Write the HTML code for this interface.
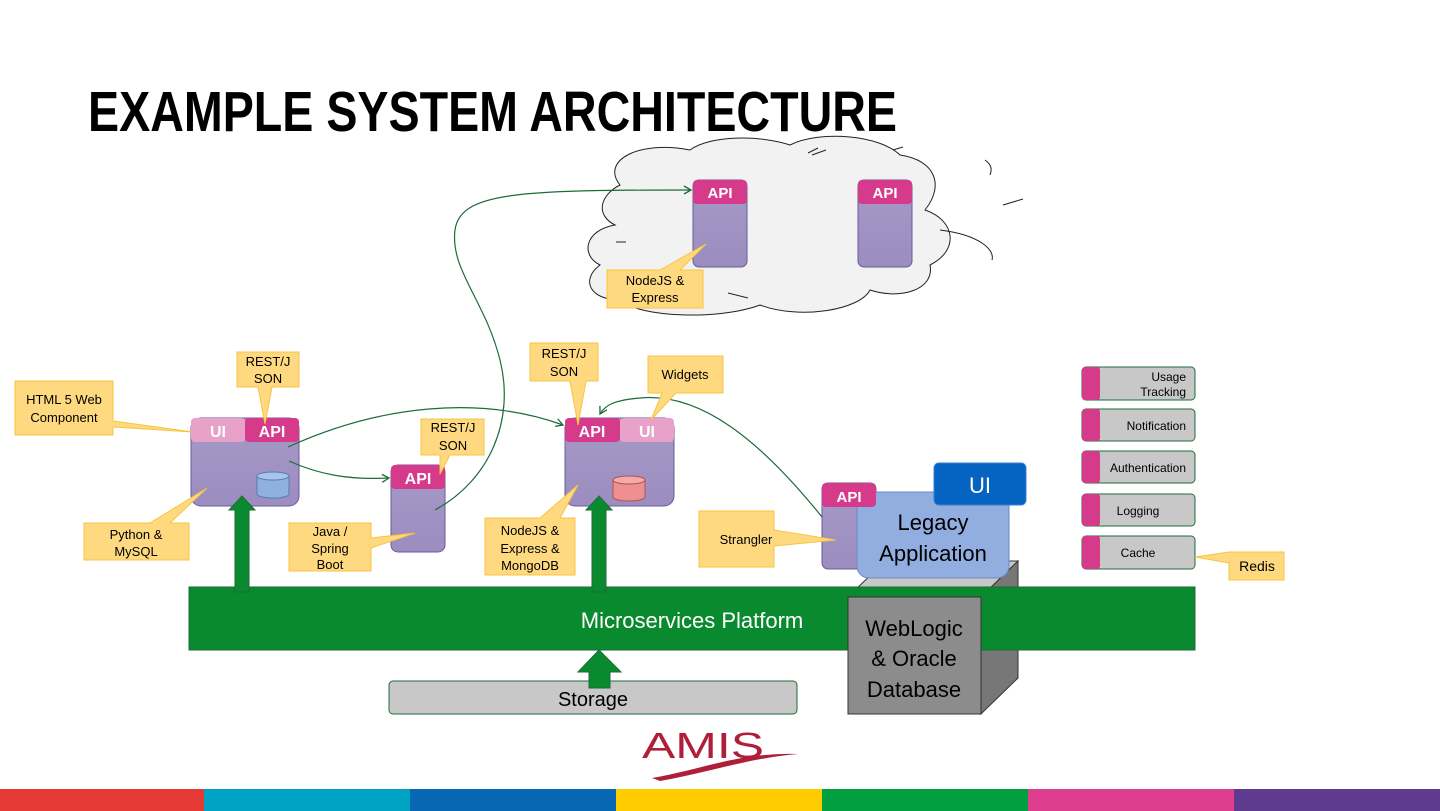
<!DOCTYPE html>
<html><head><meta charset="utf-8"><style>
html,body{margin:0;padding:0;background:#fff;}
svg{display:block;font-family:"Liberation Sans",sans-serif;}
</style></head><body>
<svg width="1440" height="811" viewBox="0 0 1440 811" xmlns="http://www.w3.org/2000/svg">
<defs>
<marker id="ar" markerWidth="10" markerHeight="10" refX="8" refY="5" orient="auto" markerUnits="userSpaceOnUse">
<path d="M1,1 L8,5 L1,9" fill="none" stroke="#1e6b3a" stroke-width="1.3"/>
</marker>
<linearGradient id="pg" x1="0" y1="0" x2="0" y2="1"><stop offset="0" stop-color="#a69ac8"/><stop offset="1" stop-color="#9b8dbf"/></linearGradient>
</defs>

<text x="88" y="131" font-size="57" font-weight="bold" fill="#000" textLength="809" lengthAdjust="spacingAndGlyphs">EXAMPLE SYSTEM ARCHITECTURE</text>

<path d="M620,185 C600,160 640,140 690,150 C710,135 760,135 790,145 C820,130 880,135 900,155 C935,160 945,185 925,210 C955,220 960,250 930,265 C935,290 900,300 870,290 C860,310 800,320 760,305 C720,320 640,318 620,300 C590,300 580,280 600,265 C580,255 585,230 615,225 C595,215 600,195 620,185 Z" fill="#f2f2f2" stroke="#222" stroke-width="1"/>
<path d="M616,242 L626,242 M728,293 L748,298 M812,155 L826,150 M1003,205 L1023,199 M985,160 C992,165 992,170 990,175 M940,230 C980,235 995,250 992,260 M808,153 L818,148 M893,150 L903,147" stroke="#222" stroke-width="1" fill="none"/>

<rect x="693" y="180" width="54" height="87" rx="6" fill="url(#pg)" stroke="#6b5a9a" stroke-width="1"/>
<rect x="693" y="180" width="54" height="24" rx="4" fill="#d63a8a"/>
<text x="720" y="198" font-size="15" font-weight="bold" fill="#fff" text-anchor="middle">API</text>
<rect x="858" y="180" width="54" height="87" rx="6" fill="url(#pg)" stroke="#6b5a9a" stroke-width="1"/>
<rect x="858" y="180" width="54" height="24" rx="4" fill="#d63a8a"/>
<text x="885" y="198" font-size="15" font-weight="bold" fill="#fff" text-anchor="middle">API</text>

<rect x="191" y="418" width="108" height="88" rx="10" fill="url(#pg)" stroke="#6b5a9a" stroke-width="1"/>
<rect x="191" y="418" width="54" height="24" rx="4" fill="#e8a2c9"/>
<rect x="245" y="418" width="54" height="24" rx="4" fill="#d63a8a"/>
<text x="218" y="437" font-size="16" font-weight="bold" fill="#fff" text-anchor="middle">UI</text>
<text x="272" y="437" font-size="16" font-weight="bold" fill="#fff" text-anchor="middle">API</text>
<path d="M257,476 L257,494 A16,4 0 0 0 289,494 L289,476" fill="#8fb1e0" stroke="#5a7bb0"/>
<ellipse cx="273" cy="476" rx="16" ry="4" fill="#a9c4ea" stroke="#5a7bb0"/>

<rect x="391" y="465" width="54" height="87" rx="7" fill="url(#pg)" stroke="#6b5a9a" stroke-width="1"/>
<rect x="391" y="465" width="54" height="24" rx="4" fill="#d63a8a"/>
<text x="418" y="484" font-size="16" font-weight="bold" fill="#fff" text-anchor="middle">API</text>

<rect x="565" y="418" width="109" height="88" rx="10" fill="url(#pg)" stroke="#6b5a9a" stroke-width="1"/>
<rect x="565" y="418" width="55" height="24" rx="4" fill="#d63a8a"/>
<rect x="620" y="418" width="54" height="24" rx="4" fill="#e8a2c9"/>
<text x="592" y="437" font-size="16" font-weight="bold" fill="#fff" text-anchor="middle">API</text>
<text x="647" y="437" font-size="16" font-weight="bold" fill="#fff" text-anchor="middle">UI</text>
<path d="M613,480 L613,497 A16,4 0 0 0 645,497 L645,480" fill="#ef9090" stroke="#b05050"/>
<ellipse cx="629" cy="480" rx="16" ry="4" fill="#f5aaaa" stroke="#b05050"/>

<rect x="822" y="483" width="54" height="86" rx="6" fill="url(#pg)" stroke="#6b5a9a"/>

<polygon points="848,597 885,561 1018,561 981,597" fill="#c8c8c8" stroke="#333"/>
<polygon points="981,597 1018,561 1018,678 981,714" fill="#777" stroke="#333"/>

<rect x="189" y="587" width="1006" height="63" fill="#0a8a2e" stroke="#1e6b3a"/>
<text x="692" y="628" font-size="22" fill="#fff" text-anchor="middle">Microservices Platform</text>

<rect x="848" y="597" width="133" height="117" fill="#8c8c8c" stroke="#333"/>
<text x="914" y="636" font-size="22" fill="#000" text-anchor="middle">WebLogic</text>
<text x="914" y="666" font-size="22" fill="#000" text-anchor="middle">&amp; Oracle</text>
<text x="914" y="697" font-size="22" fill="#000" text-anchor="middle">Database</text>

<rect x="857" y="492" width="152" height="86" rx="12" fill="#92aee0" stroke="#6a8ac8"/>
<text x="933" y="530" font-size="22" fill="#000" text-anchor="middle">Legacy</text>
<text x="933" y="561" font-size="22" fill="#000" text-anchor="middle">Application</text>
<rect x="934" y="463" width="92" height="42" rx="5" fill="#0563c1" stroke="#3b7fd0"/>
<text x="980" y="493" font-size="22" fill="#fff" text-anchor="middle">UI</text>
<rect x="822" y="483" width="54" height="24" rx="4" fill="#d63a8a"/>
<text x="849" y="502" font-size="15" font-weight="bold" fill="#fff" text-anchor="middle">API</text>

<rect x="389" y="681" width="408" height="33" rx="4" fill="#c8c8c8" stroke="#1e6b3a"/>
<text x="593" y="706" font-size="20" fill="#000" text-anchor="middle">Storage</text>

<path d="M235,592 L235,510 L229,510 L242,496 L255,510 L249,510 L249,592 Z" fill="#0a8a2e" stroke="#1e6b3a"/>
<path d="M592,592 L592,510 L586,510 L599,496 L612,510 L606,510 L606,592 Z" fill="#0a8a2e" stroke="#1e6b3a"/>
<path d="M589,688 L589,672 L578,672 L599,650 L621,672 L610,672 L610,688 Z" fill="#0a8a2e" stroke="#1e6b3a"/>

<g font-size="12" fill="#000">
<rect x="1082" y="367" width="113" height="33" rx="4" fill="#c8c8c8" stroke="#1e6b3a"/><rect x="1082" y="367" width="18" height="33" rx="3" fill="#d63a8a"/>
<text x="1186" y="381" text-anchor="end">Usage</text><text x="1186" y="396" text-anchor="end">Tracking</text>
<rect x="1082" y="409" width="113" height="32" rx="4" fill="#c8c8c8" stroke="#1e6b3a"/><rect x="1082" y="409" width="18" height="32" rx="3" fill="#d63a8a"/>
<text x="1186" y="430" text-anchor="end">Notification</text>
<rect x="1082" y="451" width="113" height="32" rx="4" fill="#c8c8c8" stroke="#1e6b3a"/><rect x="1082" y="451" width="18" height="32" rx="3" fill="#d63a8a"/>
<text x="1186" y="472" text-anchor="end">Authentication</text>
<rect x="1082" y="494" width="113" height="32" rx="4" fill="#c8c8c8" stroke="#1e6b3a"/><rect x="1082" y="494" width="18" height="32" rx="3" fill="#d63a8a"/>
<text x="1138" y="515" text-anchor="middle">Logging</text>
<rect x="1082" y="536" width="113" height="33" rx="4" fill="#c8c8c8" stroke="#1e6b3a"/><rect x="1082" y="536" width="18" height="33" rx="3" fill="#d63a8a"/>
<text x="1138" y="557" text-anchor="middle">Cache</text>
</g>

<g fill="none" stroke="#1e6b3a" stroke-width="1.2">
<path d="M288,447 C380,405 480,395 563,425" marker-end="url(#ar)"/>
<path d="M289,461 C320,475 350,480 389,478" marker-end="url(#ar)"/>
<path d="M435,510 C490,480 515,420 500,360 C485,300 450,270 455,230 C460,192 520,190 691,190" marker-end="url(#ar)"/>
<path d="M822,517 C760,440 700,392 640,398 C615,400 605,405 600,414" marker-end="url(#ar)"/>
</g>

<g fill="#ffd980" stroke="#f5c542" stroke-width="1">
<path d="M15,381 H113 V421 L193,432 L113,427 V435 H15 Z"/>
<path d="M237,352 H299 V387 H272 L265,424 L258,387 H237 Z"/>
<path d="M84,523 H150 L207,488 L170,523 H189 V560 H84 Z"/>
<path d="M289,523 H371 V538 L415,533 L371,548 V571 H289 Z"/>
<path d="M421,419 H484 V455 H450 L440,474 L440,455 H421 Z"/>
<path d="M530,343 H598 V381 H586 L578,425 L570,381 H530 Z"/>
<path d="M648,356 H723 V393 H676 L651,420 L662,393 H648 Z"/>
<path d="M485,518 H540 L578,485 L560,518 H575 V575 H485 Z"/>
<path d="M699,511 H774 V530 L836,540 L774,546 V567 H699 Z"/>
<path d="M607,270 H660 L706,244 L680,270 H703 V308 H607 Z"/>
<path d="M1229,552 L1195,557 L1229,563 V580 H1284 V552 Z"/>
</g>
<g font-size="13" fill="#000" text-anchor="middle">
<text x="64" y="404">HTML 5 Web</text><text x="64" y="422">Component</text>
<text x="268" y="366">REST/J</text><text x="268" y="383">SON</text>
<text x="136" y="539">Python &amp;</text><text x="136" y="556">MySQL</text>
<text x="330" y="536">Java /</text><text x="330" y="553">Spring</text><text x="330" y="569">Boot</text>
<text x="453" y="432">REST/J</text><text x="453" y="450">SON</text>
<text x="564" y="358">REST/J</text><text x="564" y="376">SON</text>
<text x="685" y="379">Widgets</text>
<text x="530" y="535">NodeJS &amp;</text><text x="530" y="553">Express &amp;</text><text x="530" y="570">MongoDB</text>
<text x="746" y="544">Strangler</text>
<text x="655" y="285">NodeJS &amp;</text><text x="655" y="302">Express</text>
<text x="1257" y="571" font-size="14">Redis</text>
</g>

<text x="642" y="758" font-size="36" fill="#b01f3a" textLength="122" lengthAdjust="spacingAndGlyphs">AMIS</text>
<path d="M652,778 C700,770 740,752 798,754 C750,758 710,772 660,781 Z" fill="#b01f3a"/>

<rect x="0" y="789" width="204" height="22" fill="#e53935"/>
<rect x="204" y="789" width="206" height="22" fill="#00a3c4"/>
<rect x="410" y="789" width="206" height="22" fill="#0867b3"/>
<rect x="616" y="789" width="206" height="22" fill="#ffcc00"/>
<rect x="822" y="789" width="206" height="22" fill="#00a040"/>
<rect x="1028" y="789" width="206" height="22" fill="#dd3f8e"/>
<rect x="1234" y="789" width="206" height="22" fill="#5f3b8f"/>
</svg>
</body></html>
